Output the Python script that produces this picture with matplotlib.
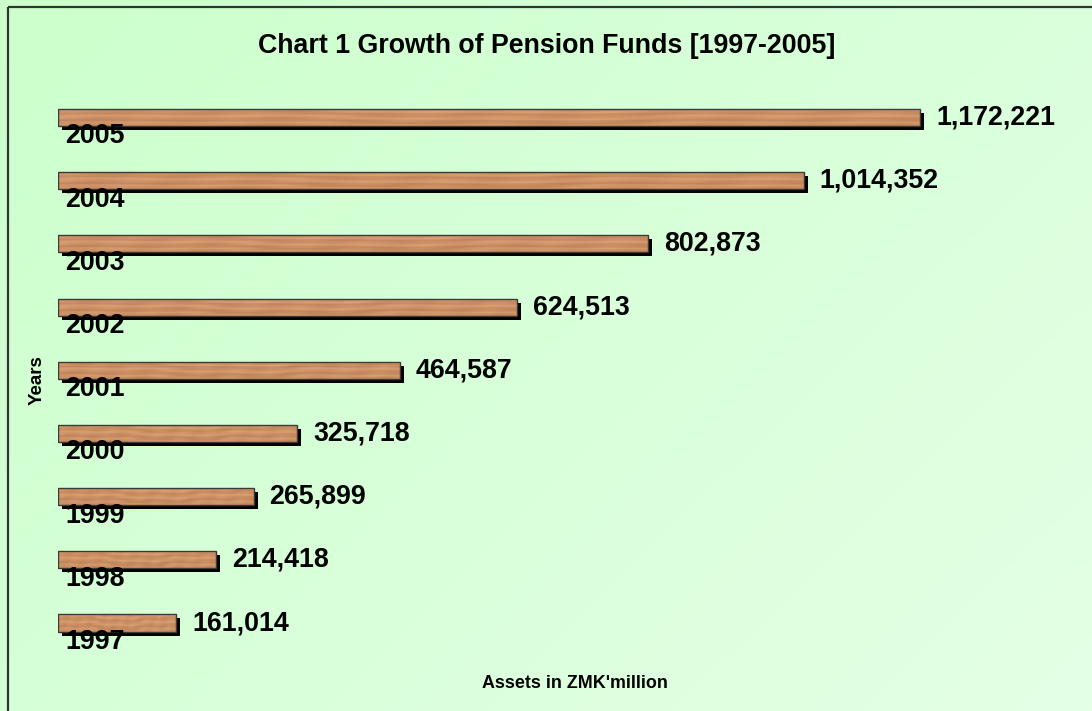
import numpy as np
import matplotlib
matplotlib.use("Agg")
import matplotlib.pyplot as plt
from matplotlib.patches import Rectangle
from matplotlib import transforms

years = ["1997", "1998", "1999", "2000", "2001", "2002", "2003", "2004", "2005"]
values = [161014, 214418, 265899, 325718, 464587, 624513, 802873, 1014352, 1172221]
value_labels = ["161,014", "214,418", "265,899", "325,718", "464,587",
                "624,513", "802,873", "1,014,352", "1,172,221"]
title = "Chart 1 Growth of Pension Funds [1997-2005]"
xlabel = "Assets in ZMK'million"
ylabel = "Years"

W, H = 1092, 711
fig = plt.figure(figsize=(W / 100, H / 100), dpi=100)
plt.rcParams['font.family'] = ['Liberation Sans', 'DejaVu Sans']

# background gradient
bg = fig.add_axes([0, 0, 1, 1])
bg.set_axis_off()
gx, gy = np.meshgrid(np.linspace(0, 1, 300), np.linspace(0, 1, 200))
t = np.clip((gx * 0.6 + gy * 0.4), 0, 1)
c0 = np.array([204, 255, 204]) / 255
c1 = np.array([228, 255, 230]) / 255
img = c0[None, None, :] * (1 - t[..., None]) + c1[None, None, :] * t[..., None]
bg.imshow(img, extent=[0, 1, 0, 1], aspect='auto', origin='upper')
bg.set_xlim(0, 1); bg.set_ylim(0, 1)
# border (left & top)
bx, by = 7.5 / W, 1 - 6.5 / H
bg.plot([bx, bx], [-0.1, by], color='#333333', lw=1.6, solid_capstyle='butt')
bg.plot([bx, 1.1], [by, by], color='#333333', lw=1.6, solid_capstyle='butt')

# main axes
left_px = 58
ax_top_px, ax_bot_px = 85.9, 654.6
ax = fig.add_axes([left_px / W, 1 - ax_bot_px / H, (W - left_px) / W,
                   (ax_bot_px - ax_top_px) / H])
ax.set_axis_off()
ax.set_xlim(0, (W - left_px) * 1360)
ax.set_ylim(-0.5, len(years) - 0.5)

bar_h = 0.27
shadow_tr = transforms.offset_copy(ax.transData, fig=fig, x=4, y=-4, units='dots')

# wood texture (deterministic grain, long horizontal streaks)
uu, vv = np.meshgrid(np.linspace(0, 1, 400), np.linspace(0, 1, 18))
grain = (0.55 + 0.18 * np.sin(2 * np.pi * vv * 2.4 + 1.4 * np.sin(uu * 9) + 0.7 * np.sin(uu * 27 + 0.5))
         + 0.10 * np.sin(2 * np.pi * vv * 5.3 + 0.9 * np.sin(uu * 17 + 1.3))
         + 0.06 * np.sin(uu * 60 + vv * 3))
grain -= 0.12 * vv ** 3
grain = np.clip(grain, 0, 1)
light = np.array([0.89, 0.67, 0.49])
dark = np.array([0.70, 0.46, 0.29])
wood = dark[None, None, :] * (1 - grain[..., None]) + light[None, None, :] * grain[..., None]

for i, (yr, v, lab) in enumerate(zip(years, values, value_labels)):
    sh = Rectangle((0, i - bar_h / 2), v, bar_h, transform=shadow_tr,
                   facecolor='black', edgecolor='none', zorder=2)
    ax.add_patch(sh)
    rect = Rectangle((0, i - bar_h / 2), v, bar_h, facecolor='none',
                     edgecolor='#3a3a3a', lw=1.0, zorder=4)
    ax.add_patch(rect)
    im = ax.imshow(wood, extent=[0, v, i - bar_h / 2, i + bar_h / 2],
                   aspect='auto', zorder=3, interpolation='bicubic')
    im.set_clip_path(rect)
    vt = transforms.offset_copy(ax.transData, fig=fig, x=16, y=0, units='dots')
    ax.text(v, i, lab, transform=vt, ha='left', va='center',
            fontsize=19.3, fontweight='bold', color='black', zorder=5)
    yt = transforms.offset_copy(ax.transData, fig=fig, x=7, y=-19, units='dots')
    ax.text(0, i, yr, transform=yt, ha='left', va='center',
            fontsize=19.3, fontweight='bold', color='black', zorder=5)

fig.text(547 / W, 1 - 46 / H, title, ha='center', va='center',
         fontsize=19.3, fontweight='bold')
fig.text(575 / W, 1 - 684 / H, xlabel, ha='center', va='center',
         fontsize=12.9, fontweight='bold')
fig.text(37 / W, 1 - 380 / H, ylabel, ha='center', va='center', rotation=90,
         fontsize=13.5, fontweight='bold')

fig.savefig("out.png", dpi=100)
